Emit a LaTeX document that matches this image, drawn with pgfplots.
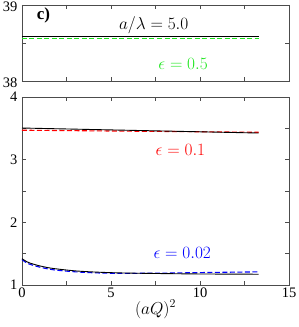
\documentclass[border=0pt]{standalone}
\usepackage{fontspec}
\setmainfont{Liberation Serif}
\usepackage{pgfplots}
\pgfplotsset{compat=1.18}
\definecolor{mygreen}{RGB}{30,230,30}
\definecolor{myred}{RGB}{255,0,0}
\definecolor{myblue}{RGB}{0,0,255}
\tikzset{lab/.style={font=\fontsize{17}{19}\selectfont}}
\begin{document}
\begin{tikzpicture}
\path[use as bounding box] (-22pt,-42pt) rectangle (276pt,285pt);
\pgfplotsset{
  common/.style={
    scale only axis,
    width=267pt,
    xmin=0, xmax=15,
    xtick={0,5,10,15},
    minor xtick={2.5,7.5,12.5},
    tick align=inside,
    major tick length=4pt,
    minor tick length=4pt,
    axis line style={black!70, line width=0.6pt},
    tick style={black!70, line width=0.6pt},
    tick label style={font=\fontsize{14.5}{16}\selectfont},
    /pgf/number format/assume math mode=true,
    clip=false,
  },
  dsh/.style={dash pattern=on 5pt off 2.5pt, line width=1.1pt},
}
\begin{axis}[common, name=bot, at={(0,0)}, anchor=south west,
  height=188pt,
  ymin=1, ymax=4,
  ytick={1,2,3,4},
  minor ytick={1.5,2.5,3.5},
  xlabel={$(aQ)^2$},
  xlabel style={font=\fontsize{18}{20}\selectfont, yshift=4pt},
  yticklabel style={xshift=-1pt},
  xticklabel style={yshift=1pt},
]
\addplot[myred, dsh] coordinates {(0,3.47) (13.3,3.437)};
\addplot[black, line width=0.9pt] coordinates {(0,3.505) (13.3,3.425)};
\addplot[myblue, dsh, smooth] coordinates {
 (0,1.405) (0.25,1.355) (0.5,1.325) (1,1.285) (1.5,1.255) (2,1.235) (3,1.21) (4,1.195) (5,1.188) (6,1.186) (8,1.19) (10,1.198) (13.3,1.21)};
\addplot[black, line width=0.9pt, smooth] coordinates {
 (0,1.42) (0.25,1.375) (0.5,1.345) (1,1.305) (1.5,1.275) (2,1.255) (3,1.225) (4,1.208) (5,1.197) (6,1.19) (8,1.182) (10,1.176) (13.3,1.172)};
\node[myred, lab] at (axis cs:8.9,3.15) {$\epsilon = 0.1$};
\node[myblue, lab] at (axis cs:9.0,1.51) {$\epsilon = 0.02$};
\end{axis}
\begin{axis}[common, at={(0,204pt)}, anchor=south west,
  height=76pt,
  ymin=38, ymax=39,
  ytick={38,39},
  minor ytick={38.5},
  xticklabels={},
  yticklabel style={xshift=-1pt, yshift=-1.5pt},
]
\addplot[mygreen, dsh] coordinates {(0,38.555) (13.3,38.555)};
\addplot[black, line width=0.9pt] coordinates {(0,38.583) (13.3,38.583)};
\node[font=\fontsize{17}{19}\selectfont\bfseries] at (axis cs:1.2,38.86) {c)};
\node[lab] at (axis cs:7.4,38.74) {$a/\lambda = 5.0$};
\node[mygreen, lab] at (axis cs:9.05,38.23) {$\epsilon = 0.5$};
\end{axis}
\end{tikzpicture}
\end{document}
